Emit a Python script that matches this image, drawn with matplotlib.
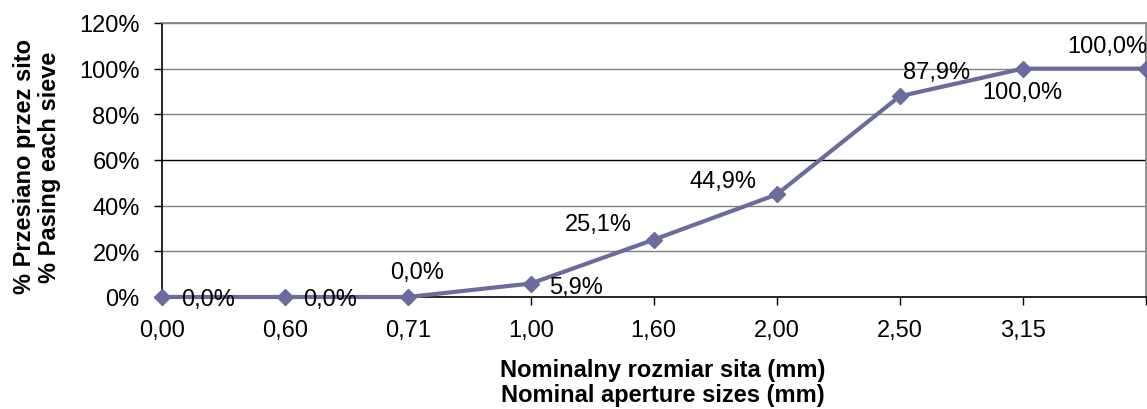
import matplotlib
matplotlib.use("Agg")
import matplotlib.pyplot as plt
from matplotlib.ticker import FuncFormatter

sizes = ["0,00", "0,60", "0,71", "1,00", "1,60", "2,00", "2,50", "3,15", ""]
passing = [0.0, 0.0, 0.0, 5.9, 25.1, 44.9, 87.9, 100.0, 100.0]
label_offsets = [(46, -2), (45, -2), (9, 25), (45, -3), (-55, 16), (-54, 13), (37, 24), (0, -23), (-38, 23)]

plt.rcParams['font.family'] = ['Liberation Sans', 'DejaVu Sans']
FS = 17

fig = plt.figure(figsize=(11.47, 4.10), dpi=100)
ax = fig.add_axes([162/1147, 1-298/410, (1145.5-162)/1147, (298-24)/410])

x = list(range(len(sizes)))
ax.plot(x, passing, color='#6b6b9e', lw=3, marker='D', ms=8, clip_on=False, zorder=3)

for xi, v, (dx, dy) in zip(x, passing, label_offsets):
    ax.annotate(f"{v:.1f}%".replace('.', ','), (xi, v), xytext=(dx, dy),
                textcoords='offset pixels', ha='center', va='center',
                fontsize=FS, color='black', zorder=4, annotation_clip=False)

ax.set_xlim(0, len(sizes) - 1)
ax.set_ylim(0, 120)
ax.set_yticks(range(0, 121, 20))
ax.yaxis.set_major_formatter(FuncFormatter(lambda v, p: f"{int(v)}%"))
ax.set_xticks(x)
ax.set_xticklabels(sizes)
ax.tick_params(axis='both', labelsize=FS, colors='black', length=6, width=1)
ax.tick_params(axis='x', pad=10)
ax.tick_params(axis='y', pad=10)

for yv in range(20, 121, 20):
    ax.axhline(yv, color='black' if yv == 60 else '#808080', lw=1, zorder=1)

ax.spines['left'].set_color('black')
ax.spines['bottom'].set_color('black')
ax.spines['top'].set_color('#808080')
ax.spines['right'].set_color('#808080')
for s in ax.spines.values():
    s.set_linewidth(1.2)

fig.text(37/1147, 1-167/410, "% Przesiano przez sito\n% Pasing each sieve", rotation=90,
         ha='center', va='center', fontsize=FS, fontweight='bold', linespacing=1.15)
fig.text(663/1147, 1-383/410, "Nominalny rozmiar sita (mm)\nNominal aperture sizes (mm)",
         ha='center', va='center', fontsize=FS, fontweight='bold', linespacing=1.15)

fig.savefig("out.png", dpi=100)
